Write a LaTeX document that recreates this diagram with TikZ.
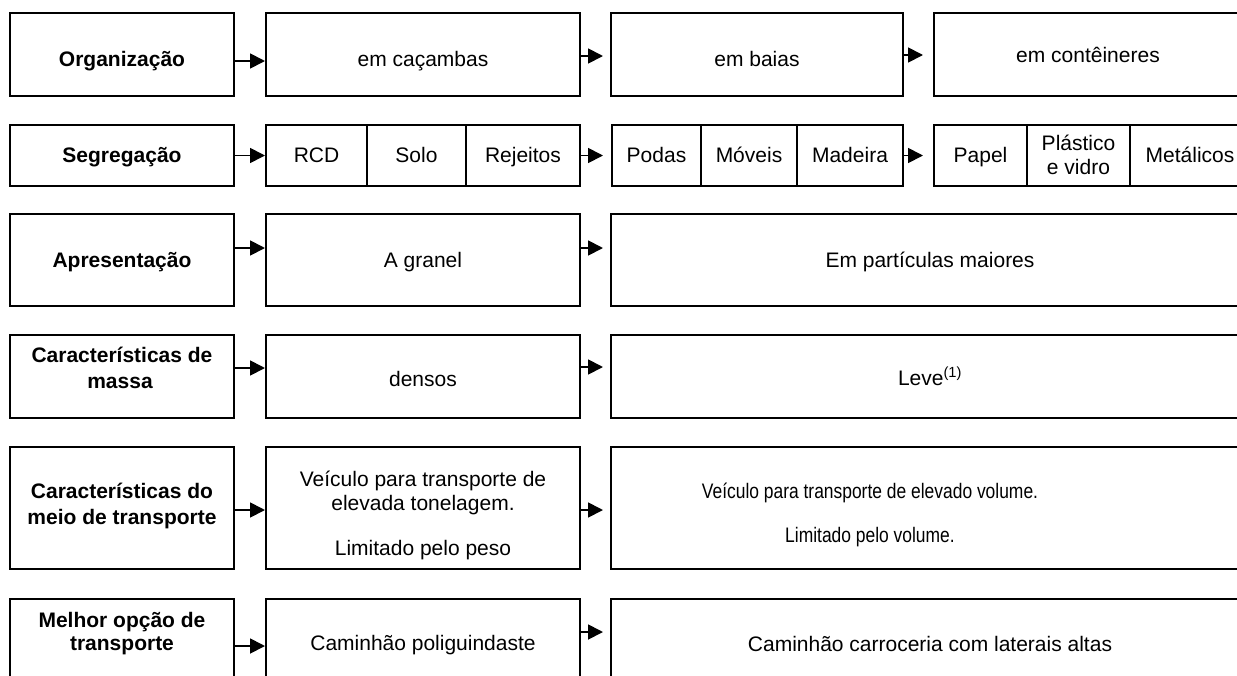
\documentclass[tikz,border=0pt]{standalone}
\usepackage{fontspec}
\setmainfont{Liberation Sans}
\usetikzlibrary{arrows.meta}
\tikzset{
  box/.style={draw, line width=1.8pt, inner sep=0pt, outer sep=0pt, anchor=north west},
  txt/.style={inner sep=0pt, anchor=base, font=\fontsize{21}{25}\selectfont},
  btxt/.style={inner sep=0pt, anchor=base, font=\fontsize{21}{25}\selectfont\bfseries},
  arr/.style={line width=1.8pt, -{Triangle[length=15pt,width=15pt]}},
}
\begin{document}
\begin{tikzpicture}[x=1pt,y=-1pt]
\useasboundingbox (0,0) rectangle (1237,675);
\fill[white] (0,0) rectangle (1237,675);
\clip (0,0) rectangle (1237,675);

% Row 1
\node[box, minimum width=224pt, minimum height=83pt] (org) at (10,13) {};
\node[box, minimum width=314pt, minimum height=83pt] (cac) at (266,13) {};
\node[box, minimum width=292pt, minimum height=83pt] (bai) at (611,13) {};
\node[box, minimum width=316pt, minimum height=83pt] (con) at (934,13) {};
\node[btxt] (torg) at (122,66.7) {Organização};
\node[txt] (tcac) at (423,66.7) {em caçambas};
\node[txt] (tbai) at (757,66) {em baias};
\node[txt] (tcon) at (1088,62) {em contêineres};
\draw[arr, shorten >=1pt] ([yshift=-6.5pt]org.east) -- ([yshift=-6.5pt]cac.west);
\draw[arr, shorten >=8pt] ([yshift=-1.5pt]cac.east) -- ([yshift=-1.5pt]bai.west);
\draw[arr, shorten >=11pt] ([yshift=-0.5pt]bai.east) -- ([yshift=-0.5pt]con.west);

% Row 2
\node[box, minimum width=224pt, minimum height=61pt] (seg) at (10,125) {};
\node[box, minimum width=101pt, minimum height=61pt] (rcd) at (266,125) {};
\node[box, minimum width=99pt, minimum height=61pt] (sol) at (367,125) {};
\node[box, minimum width=114pt, minimum height=61pt] (rej) at (466,125) {};
\node[box, minimum width=89pt, minimum height=61pt] (pod) at (612,125) {};
\node[box, minimum width=96pt, minimum height=61pt] (mov) at (701,125) {};
\node[box, minimum width=106pt, minimum height=61pt] (mad) at (797,125) {};
\node[box, minimum width=93pt, minimum height=61pt] (pap) at (934,125) {};
\node[box, minimum width=103pt, minimum height=61pt] (pla) at (1027,125) {};
\node[box, minimum width=120pt, minimum height=61pt] (met) at (1130,125) {};
\node[btxt] (tseg) at (122,162.5) {Segregação};
\node[txt] (trcd) at (316.5,162.5) {RCD};
\node[txt] (tsol) at (416.5,162.5) {Solo};
\node[txt] (trej) at (523,162.5) {Rejeitos};
\node[txt] (tpod) at (656.5,162.5) {Podas};
\node[txt] (tmov) at (749,162.5) {Móveis};
\node[txt] (tmad) at (850,162.5) {Madeira};
\node[txt] (tpap) at (980.5,162.5) {Papel};
\node[txt] (tpla) at (1078.5,150) {Plástico};
\node[txt] (tvid) at (1078.5,174) {e vidro};
\node[txt] (tmet) at (1190,162.5) {Metálicos};
\draw[arr, shorten >=1pt] (seg.east) -- (rcd.west);
\draw[arr, shorten >=9pt] (rej.east) -- (pod.west);
\draw[arr, shorten >=11pt] (mad.east) -- (pap.west);

% Row 3
\node[box, minimum width=224pt, minimum height=92pt] (apr) at (10,214) {};
\node[box, minimum width=314pt, minimum height=92pt] (gra) at (266,214) {};
\node[box, minimum width=639pt, minimum height=92pt] (par) at (611,214) {};
\node[btxt] (tapr) at (122,267) {Apresentação};
\node[txt] (tgra) at (423,267) {A granel};
\node[txt] (tpar) at (930,267) {Em partículas maiores};
\draw[arr, shorten >=1pt] ([yshift=12pt]apr.east) -- ([yshift=12pt]gra.west);
\draw[arr, shorten >=8pt] ([yshift=12pt]gra.east) -- ([yshift=12pt]par.west);

% Row 4
\node[box, minimum width=224pt, minimum height=83pt] (cms) at (10,335) {};
\node[box, minimum width=314pt, minimum height=83pt] (den) at (266,335) {};
\node[box, minimum width=639pt, minimum height=83pt] (lev) at (611,335) {};
\node[btxt] (tcms1) at (122,362.7) {Características de};
\node[btxt] (tcms2) at (120,388) {massa};
\node[txt] (tden) at (423,386.7) {densos};
\node[txt] (tlev) at (930,385) {Leve\textsuperscript{(1)}};
\draw[arr, shorten >=1pt] ([yshift=8.5pt]cms.east) -- ([yshift=8.5pt]den.west);
\draw[arr, shorten >=8pt] ([yshift=9.5pt]den.east) -- ([yshift=9.5pt]lev.west);

% Row 5
\node[box, minimum width=224pt, minimum height=122pt] (cmt) at (10,447) {};
\node[box, minimum width=314pt, minimum height=122pt] (vet) at (266,447) {};
\node[box, minimum width=639pt, minimum height=122pt] (vev) at (611,447) {};
\node[btxt] (tcmt1) at (122,498) {Características do};
\node[btxt] (tcmt2) at (122,524) {meio de transporte};
\node[txt] (tvet1) at (423,486) {Veículo para transporte de};
\node[txt] (tvet2) at (423,510) {elevada tonelagem.};
\node[txt] (tvet3) at (423,555) {Limitado pelo peso};
\node[txt] (tvev1) at (870,498) {\scalebox{0.83}[1]{Veículo para transporte de elevado volume.}};
\node[txt] (tvev2) at (870,542.7) {\scalebox{0.83}[1]{Limitado pelo volume.}};
\draw[arr, shorten >=1pt] ([yshift=-2pt]cmt.east) -- ([yshift=-2pt]vet.west);
\draw[arr, shorten >=8pt] ([yshift=-2pt]vet.east) -- ([yshift=-2pt]vev.west);

% Row 6
\node[box, minimum width=224pt, minimum height=101pt] (mel) at (10,599) {};
\node[box, minimum width=314pt, minimum height=101pt] (pol) at (266,599) {};
\node[box, minimum width=639pt, minimum height=101pt] (clt) at (611,599) {};
\node[btxt] (tmel1) at (122,627.7) {Melhor opção de};
\node[btxt] (tmel2) at (122,650.7) {transporte};
\node[txt] (tpol) at (423,650.7) {Caminhão poliguindaste};
\node[txt] (tclt) at (930,651) {Caminhão carroceria com laterais altas};
\draw[arr, shorten >=1pt] ([yshift=3.5pt]mel.east) -- ([yshift=3.5pt]pol.west);
\draw[arr, shorten >=8pt] ([yshift=17.5pt]pol.east) -- ([yshift=17.5pt]clt.west);
\end{tikzpicture}
\end{document}
